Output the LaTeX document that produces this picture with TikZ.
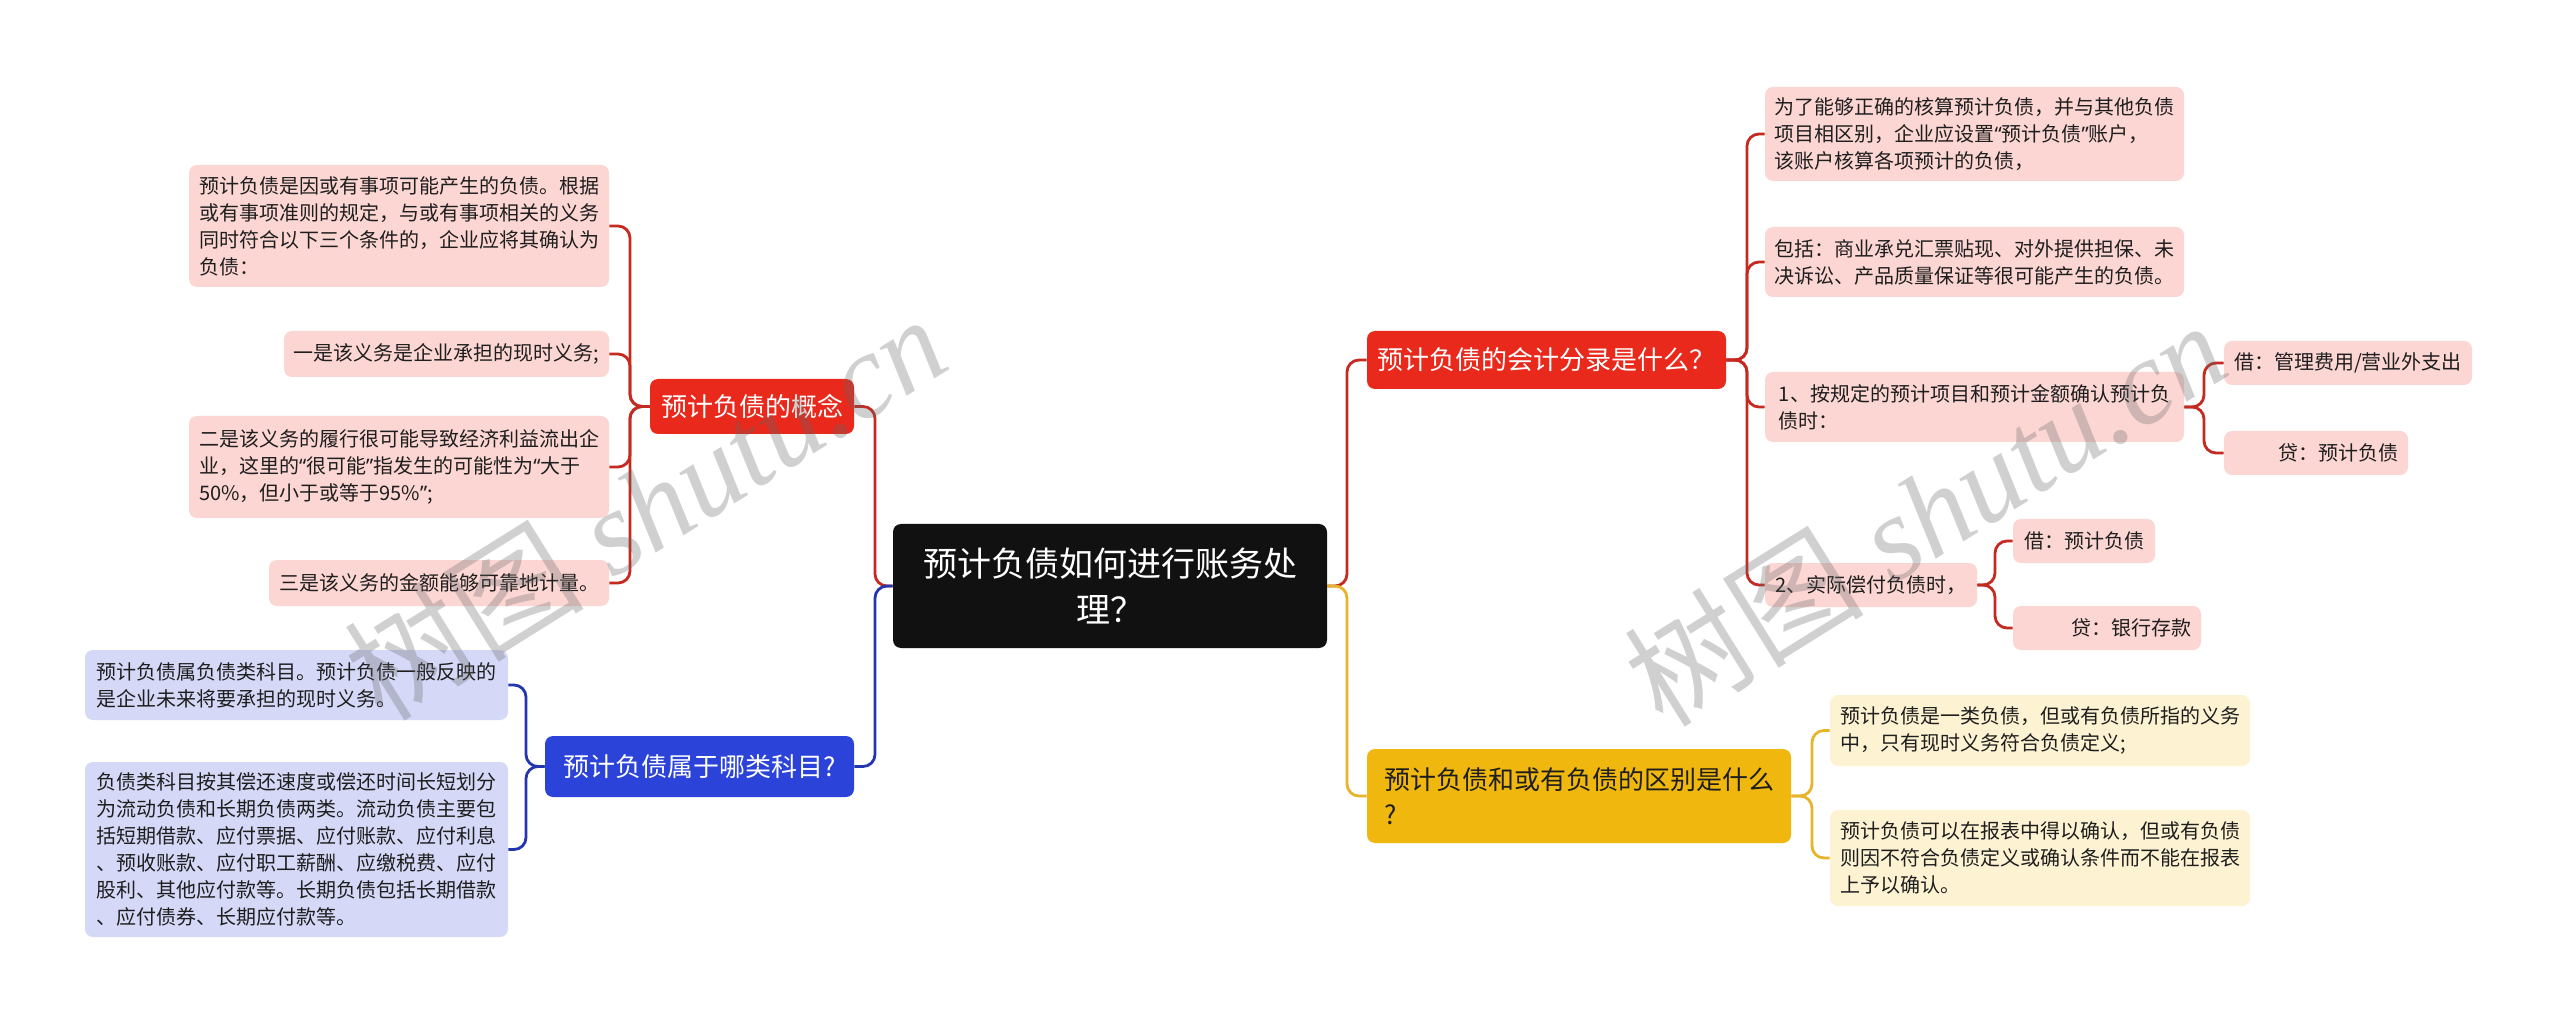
\documentclass[tikz,border=0pt]{standalone}
\usepackage{fontspec}
\setmainfont{Noto Sans CJK SC}
\newfontfamily\wmlatin{Liberation Serif}
\newfontfamily\wmcjk{Noto Sans CJK SC}
\newfontfamily\latinq{Noto Sans}
\newcommand\myoq{{\latinq “}}
\newcommand\mycq{{\latinq ”}}
\definecolor{redbr}{HTML}{E8291C}
\definecolor{redln}{HTML}{C42A20}
\definecolor{pinkbg}{HTML}{FCD6D3}
\definecolor{bluebr}{HTML}{2B43D8}
\definecolor{blueln}{HTML}{2336B0}
\definecolor{lavbg}{HTML}{D5D9F7}
\definecolor{yelbr}{HTML}{F0B80E}
\definecolor{yelln}{HTML}{E6B52A}
\definecolor{yelbg}{HTML}{FDF2D2}
\definecolor{rootbg}{HTML}{111111}
\definecolor{txt}{HTML}{1E1E1E}
\newcommand\mmnode[7]{%
 \pgfmathsetmacro\mmw{(#4-#2)*0.5}%
 \pgfmathsetmacro\mmh{(#5-#3)*0.5}%
 \pgfmathsetmacro\mmt{(#4-#2)*0.5-10}%
 \node[#6, minimum width=\mmw pt, minimum height=\mmh pt] (#1) at ({(#2+#4)/2},{(#3+#5)/2}) {#7};}
\tikzset{
  leafbox/.style={rounded corners=4pt, inner sep=2pt, align=left, text=txt,
    font=\fontsize{10}{13.5}\selectfont},
  pinkleaf/.style={leafbox, fill=pinkbg},
  lavleaf/.style={leafbox, fill=lavbg},
  yelleaf/.style={leafbox, fill=yelbg},
  rightal/.style={text width=\mmt pt, align=right},
  branchbox/.style={rounded corners=4pt, inner sep=2pt, font=\fontsize{13}{17.5}\selectfont},
  conn/.style={line width=1.4pt, rounded corners=6pt},
  wmark/.style={rotate=32, opacity=0.3, text=black!60, inner sep=0pt},
}
\begin{document}
\begin{tikzpicture}[x=0.5pt,y=-0.5pt]
\useasboundingbox (0,0) rectangle (2560,1026);
\fill[white] (0,0) rectangle (2560,1026);
% root
\mmnode{root}{893}{524}{1327}{648}{rounded corners=4pt, fill=rootbg, text=white, align=center, font=\fontsize{17}{23}\selectfont}{预计负债如何进行账务处\\理？}
% branches
\mmnode{br1}{650}{379}{854}{434}{branchbox, fill=redbr, text=white}{预计负债的概念}
\mmnode{br2}{545}{736}{854}{797}{branchbox, fill=bluebr, text=white}{预计负债属于哪类科目?}
\mmnode{br3}{1367}{331}{1726}{389}{branchbox, fill=redbr, text=white}{预计负债的会计分录是什么？}
\mmnode{br4}{1367}{749}{1791}{843}{branchbox, fill=yelbr, text=txt, align=left}{预计负债和或有负债的区别是什么\\?}
% left group 1
\mmnode{L1}{189}{165}{609}{287}{pinkleaf}{预计负债是因或有事项可能产生的负债。根据\\或有事项准则的规定，与或有事项相关的义务\\同时符合以下三个条件的，企业应将其确认为\\负债：}
\mmnode{L2}{284}{331}{609}{377}{pinkleaf}{一是该义务是企业承担的现时义务;}
\mmnode{L3}{189}{416}{609}{518}{pinkleaf}{二是该义务的履行很可能导致经济利益流出企\\业，这里的\myoq 很可能\mycq 指发生的可能性为\myoq 大于\\50\%，但小于或等于95\%\mycq;}
\mmnode{L4}{269}{560}{609}{606}{pinkleaf}{三是该义务的金额能够可靠地计量。}
% left group 2
\mmnode{B1}{85}{650}{508}{720}{lavleaf}{预计负债属负债类科目。预计负债一般反映的\\是企业未来将要承担的现时义务。}
\mmnode{B2}{85}{762}{508}{937}{lavleaf}{负债类科目按其偿还速度或偿还时间长短划分\\为流动负债和长期负债两类。流动负债主要包\\括短期借款、应付票据、应付账款、应付利息\\、预收账款、应付职工薪酬、应缴税费、应付\\股利、其他应付款等。长期负债包括长期借款\\、应付债券、长期应付款等。}
% right group 3
\mmnode{R1}{1765}{87}{2184}{181}{pinkleaf}{为了能够正确的核算预计负债，并与其他负债\\项目相区别，企业应设置\myoq 预计负债\mycq 账户，\\该账户核算各项预计的负债，}
\mmnode{R2}{1765}{227}{2184}{297}{pinkleaf}{包括：商业承兑汇票贴现、对外提供担保、未\\决诉讼、产品质量保证等很可能产生的负债。}
\mmnode{R3}{1765}{372}{2184}{442}{pinkleaf}{1、按规定的预计项目和预计金额确认预计负\\债时：}
\mmnode{R4}{1765}{563}{1977}{607}{pinkleaf}{2、实际偿付负债时，}
\mmnode{R31}{2224}{341}{2472}{385}{pinkleaf}{借：管理费用/营业外支出}
\mmnode{R32}{2224}{431}{2408}{475}{pinkleaf, rightal}{贷：预计负债}
\mmnode{R41}{2013}{519}{2155}{563}{pinkleaf}{借：预计负债}
\mmnode{R42}{2013}{606}{2201}{650}{pinkleaf, rightal}{贷：银行存款}
% right group 4
\mmnode{Y1}{1830}{695}{2250}{766}{yelleaf}{预计负债是一类负债，但或有负债所指的义务\\中，只有现时义务符合负债定义;}
\mmnode{Y2}{1830}{810}{2250}{906}{yelleaf}{预计负债可以在报表中得以确认，但或有负债\\则因不符合负债定义或确认条件而不能在报表\\上予以确认。}
% bars
\coordinate (spL) at (875,0);
\coordinate (spR) at (1347,0);
\coordinate (bar1) at (630,0);
\coordinate (bar2) at (526,0);
\coordinate (bar3) at (1747,0);
\coordinate (bar31) at (2204,0);
\coordinate (bar32) at (1995,0);
\coordinate (bar4) at (1812,0);
% connectors
\draw[conn, redln] (root.west) -- (root.west -| spL) |- (br1.east);
\draw[conn, blueln] (root.west) -- (root.west -| spL) |- (br2.east);
\draw[conn, redln] (root.east) -- (root.east -| spR) |- (br3.west);
\draw[conn, yelln] (root.east) -- (root.east -| spR) |- (br4.west);
\foreach \c in {L1,L2,L3,L4} \draw[conn, redln] (br1.west) -- (br1.west -| bar1) |- (\c.east);
\foreach \c in {B1,B2} \draw[conn, blueln] (br2.west) -- (br2.west -| bar2) |- (\c.east);
\foreach \c in {R1,R2,R3,R4} \draw[conn, redln] (br3.east) -- (br3.east -| bar3) |- (\c.west);
\foreach \c in {R31,R32} \draw[conn, redln] (R3.east) -- (R3.east -| bar31) |- (\c.west);
\foreach \c in {R41,R42} \draw[conn, redln] (R4.east) -- (R4.east -| bar32) |- (\c.west);
\foreach \c in {Y1,Y2} \draw[conn, yelln] (br4.east) -- (br4.east -| bar4) |- (\c.west);
% watermarks
\node[wmark] (wm1) at (645,506) {\fontsize{60}{60}\selectfont\wmcjk 树图\wmlatin\itshape\ shutu.cn};
\node[wmark] (wm2) at (1925,512) {\fontsize{60}{60}\selectfont\wmcjk 树图\wmlatin\itshape\ shutu.cn};
\end{tikzpicture}
\end{document}
